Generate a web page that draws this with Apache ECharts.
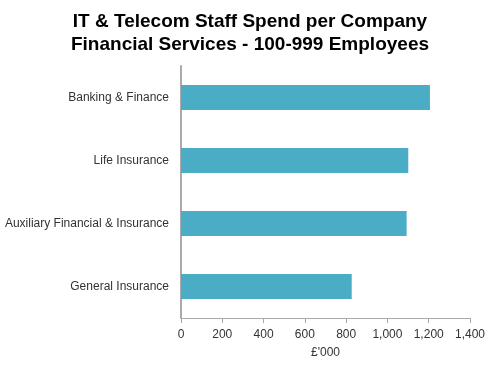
<!DOCTYPE html>
<html><head><meta charset="utf-8">
<script src="https://cdn.jsdelivr.net/npm/echarts@6/dist/echarts.min.js"></script>
<style>html,body{margin:0;padding:0;background:#fff}#c{width:500px;height:371px}</style>
</head><body><div id="c"></div>
<script>
const categories = ['General Insurance', 'Auxiliary Financial & Insurance', 'Life Insurance', 'Banking & Finance'];
const values = [827, 1093, 1101, 1206];
const titleLines = ['IT & Telecom Staff Spend per Company', 'Financial Services - 100-999 Employees'];
const xAxisName = "£'000";

const chart = echarts.init(document.getElementById('c'));
chart.setOption({
  animation: false,
  backgroundColor: '#fff',
  title: {
    text: titleLines.join('\n'),
    left: 'center', top: 5,
    textStyle: { fontFamily: 'Liberation Sans, Arial, sans-serif', fontSize: 19, fontWeight: 'bold', color: '#000', lineHeight: 23 }
  },
  grid: { left: 181, right: 30, top: 66, bottom: 53 },
  xAxis: {
    type: 'value', min: 0, max: 1400, interval: 200,
    name: xAxisName, nameLocation: 'middle', nameGap: 29,
    nameTextStyle: { fontFamily: 'Liberation Sans, Arial, sans-serif', fontSize: 12, color: '#333' },
    axisLine: { show: true, lineStyle: { color: '#aaa', width: 1 } },
    axisTick: { show: true, length: 5, lineStyle: { color: '#aaa' } },
    axisLabel: { margin: 11, fontFamily: 'Liberation Sans, Arial, sans-serif', fontSize: 12, color: '#333',
      formatter: v => v.toLocaleString('en-US') },
    splitLine: { show: false }
  },
  yAxis: {
    type: 'category', data: categories,
    axisLine: { show: true, lineStyle: { color: '#aaa', width: 2 } },
    axisTick: { show: false },
    axisLabel: { margin: 12, fontFamily: 'Liberation Sans, Arial, sans-serif', fontSize: 12, color: '#333' }
  },
  series: [{
    type: 'bar', data: values, barWidth: 25,
    itemStyle: { color: '#4bacc6' }
  }]
});
</script></body></html>
